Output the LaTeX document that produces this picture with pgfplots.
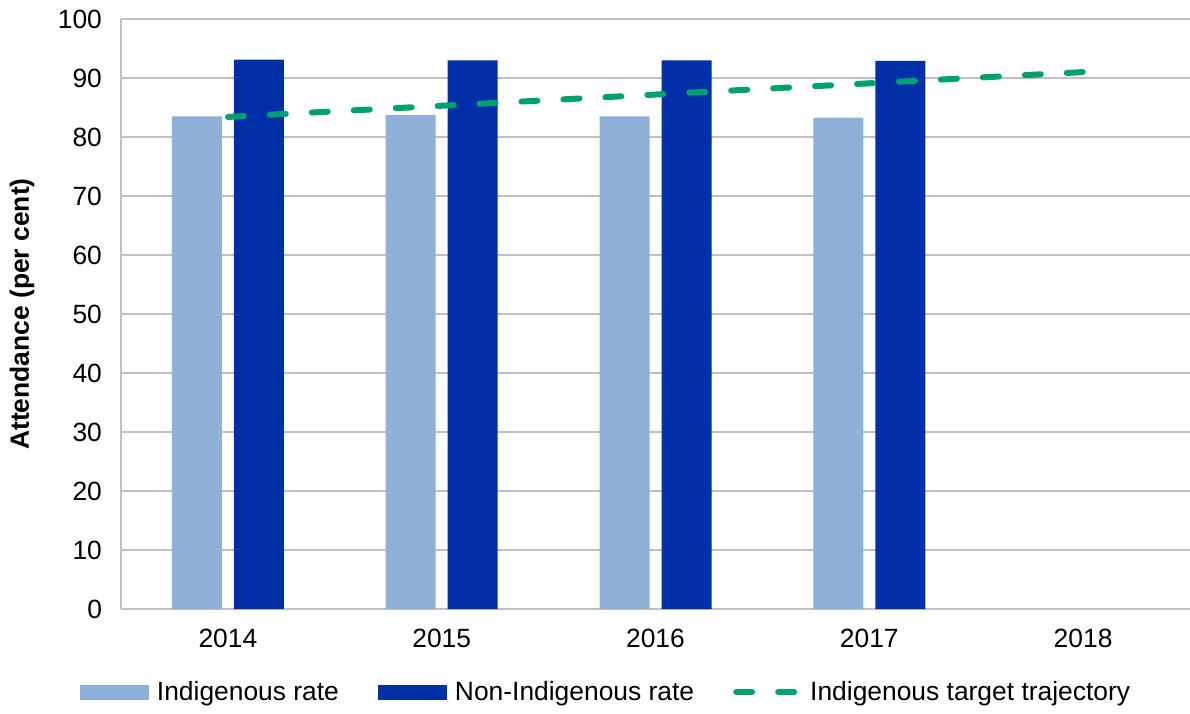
\documentclass[border=0pt]{standalone}
\usepackage{pgfplots}
\pgfplotsset{compat=1.18}
\usepackage{fontspec}
\setmainfont{Liberation Sans}
\definecolor{indig}{RGB}{143,177,217}
\definecolor{nonindig}{RGB}{0,47,167}
\definecolor{target}{RGB}{0,161,113}
\definecolor{gridgray}{RGB}{192,192,192}
\newcommand{\chartfont}{\fontsize{13.2}{15}\selectfont}
\begin{document}
\begin{tikzpicture}
\begin{axis}[
    name=ax,
    scale only axis,
    width=534.5pt, height=295pt,
    ybar=6pt, bar width=25pt,
    xmin=-0.5, xmax=4.5, ymin=0, ymax=100,
    xtick={0,1,2,3,4},
    xticklabels={2014,2015,2016,2017,2018},
    ytick={0,10,...,100},
    major tick length=0pt,
    axis lines=left,
    axis line style={draw=gridgray, line width=0.9pt, -},
    ymajorgrids,
    grid style={gridgray, line width=0.9pt},
    /pgf/number format/assume math mode=true,
    ticklabel style={font=\chartfont},
    yticklabel style={xshift=-6pt},
    xticklabel style={yshift=-6.5pt},
    ylabel={\textbf{Attendance (per cent)}},
    ylabel style={at={(axis description cs:-0.0926,0.5)}, anchor=center, font=\chartfont},
    legend style={at={(0.4528,-0.1407)}, anchor=center, draw=none,
        font=\chartfont, legend columns=3,
        nodes={inner sep=0pt},
        /tikz/every odd column/.append style={column sep=4pt},
        /tikz/every even column/.append style={column sep=19.5pt}},
]
\addplot[fill=indig, draw=none,
    legend image code/.code={\fill[indig] (0pt,-3.75pt) rectangle (34.5pt,3.75pt);}]
    coordinates {(0,83.5) (1,83.7) (2,83.5) (3,83.3)};
\addplot[fill=nonindig, draw=none,
    legend image code/.code={\fill[nonindig] (0pt,-3.75pt) rectangle (34.5pt,3.75pt);}]
    coordinates {(0,93.1) (1,93.0) (2,93.0) (3,92.9)};
\addplot[sharp plot, draw=target, line width=3pt, dash pattern=on 8pt off 13pt, line cap=round, mark=none,
    legend image code/.code={\draw[target, line width=3pt, dash pattern=on 8pt off 13pt, line cap=round] (1.5pt,0pt) -- (33pt,0pt);}]
    coordinates {(0,83.4) (1,85.3) (2,87.2) (3,89.1) (4,91.0)};
\legend{Indigenous rate, Non-Indigenous rate, Indigenous target trajectory}
\end{axis}
\pgfresetboundingbox
\path[use as bounding box] ([xshift=-60.5pt,yshift=-52pt]ax.south west) rectangle ([yshift=9.5pt]ax.north east);
\end{tikzpicture}
\end{document}
